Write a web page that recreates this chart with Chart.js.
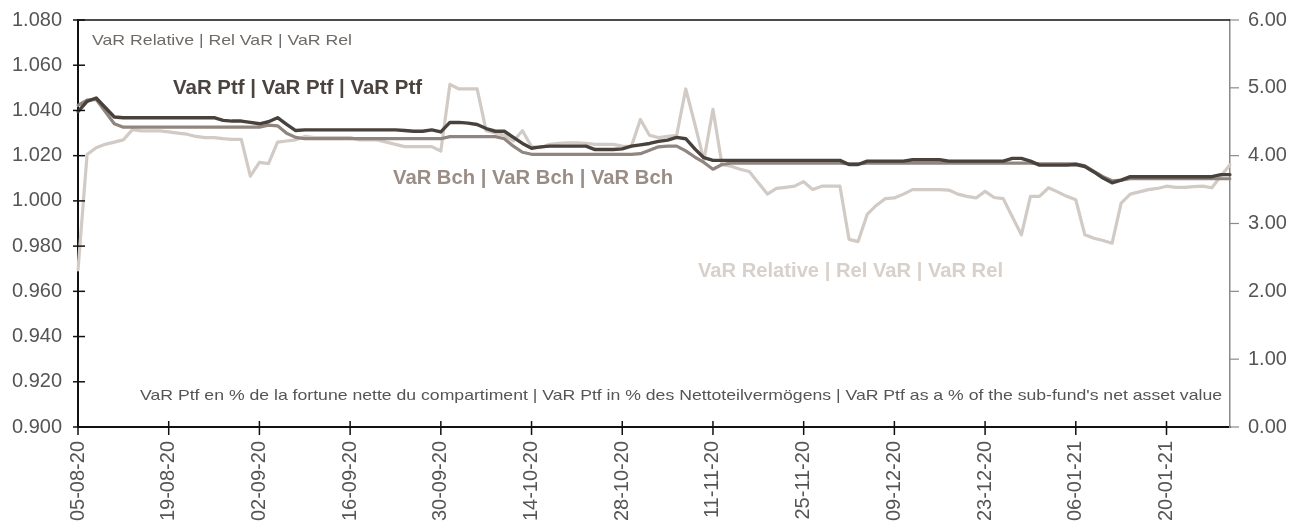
<!DOCTYPE html>
<html><head><meta charset="utf-8">
<script src="https://cdn.jsdelivr.net/npm/chart.js@4.4.1/dist/chart.umd.min.js"></script>
<style>html,body{margin:0;padding:0;background:#fff;overflow:hidden}#wrap{width:1306px;height:521px;position:relative}</style>
</head><body><div id="wrap"><canvas id="c" width="1306" height="521"></canvas></div>
<script>
const dates = [
'05-08-20','06-08-20','07-08-20','10-08-20','11-08-20','12-08-20','13-08-20','14-08-20','17-08-20','18-08-20',
'19-08-20','20-08-20','21-08-20','24-08-20','25-08-20','26-08-20','27-08-20','28-08-20','31-08-20','01-09-20',
'02-09-20','03-09-20','04-09-20','07-09-20','08-09-20','09-09-20','10-09-20','11-09-20','14-09-20','15-09-20',
'16-09-20','17-09-20','18-09-20','21-09-20','22-09-20','23-09-20','24-09-20','25-09-20','28-09-20','29-09-20',
'30-09-20','01-10-20','02-10-20','05-10-20','06-10-20','07-10-20','08-10-20','09-10-20','12-10-20','13-10-20',
'14-10-20','15-10-20','16-10-20','19-10-20','20-10-20','21-10-20','22-10-20','23-10-20','26-10-20','27-10-20',
'28-10-20','29-10-20','30-10-20','02-11-20','03-11-20','04-11-20','05-11-20','06-11-20','09-11-20','10-11-20',
'11-11-20','12-11-20','13-11-20','16-11-20','17-11-20','18-11-20','19-11-20','20-11-20','23-11-20','24-11-20',
'25-11-20','26-11-20','27-11-20','30-11-20','01-12-20','02-12-20','03-12-20','04-12-20','07-12-20','08-12-20',
'09-12-20','10-12-20','11-12-20','14-12-20','15-12-20','16-12-20','17-12-20','18-12-20','21-12-20','22-12-20',
'23-12-20','24-12-20','25-12-20','28-12-20','29-12-20','30-12-20','31-12-20','01-01-21','04-01-21','05-01-21',
'06-01-21','07-01-21','08-01-21','11-01-21','12-01-21','13-01-21','14-01-21','15-01-21','18-01-21','19-01-21',
'20-01-21','21-01-21','22-01-21','25-01-21','26-01-21','27-01-21','28-01-21','29-01-21'];

// VaR Relative (left axis)
const varRel = [
0.9695,1.0205,1.0235,1.0250,1.0260,1.0270,1.0315,1.0310,1.0310,1.0310,
1.0305,1.0300,1.0295,1.0285,1.0280,1.0280,1.0275,1.0272,1.0272,1.0110,
1.0170,1.0165,1.0260,1.0265,1.0270,1.0285,1.0280,1.0280,1.0280,1.0280,
1.0280,1.0270,1.0270,1.0270,1.0260,1.0250,1.0240,1.0240,1.0240,1.0240,
1.0220,1.0515,1.0495,1.0495,1.0495,1.0310,1.0300,1.0290,1.0265,1.0310,
1.0240,1.0235,1.0250,1.0255,1.0257,1.0257,1.0255,1.0250,1.0250,1.0250,
1.0242,1.0240,1.0360,1.0290,1.0280,1.0285,1.0290,1.0495,1.0340,1.0180,
1.0405,1.0160,1.0153,1.0140,1.0130,1.0080,1.0030,1.0055,1.0060,1.0065,
1.0085,1.0050,1.0065,1.0065,1.0065,0.9830,0.9820,0.9940,0.9980,1.0010,
1.0013,1.0030,1.0050,1.0050,1.0050,1.0050,1.0048,1.0030,1.0020,1.0013,
1.0042,1.0015,1.0010,0.9930,0.9850,1.0020,1.0020,1.0058,1.0040,1.0020,
1.0005,0.9850,0.9835,0.9825,0.9813,0.9990,1.0030,1.0040,1.0050,1.0055,
1.0065,1.0060,1.0060,1.0063,1.0065,1.0058,1.0110,1.0160];

// VaR Ptf in % (right axis)
const varPtf = [
4.65,4.80,4.85,4.71,4.57,4.56,4.56,4.56,4.56,4.56,
4.56,4.56,4.56,4.56,4.56,4.56,4.52,4.51,4.51,4.49,
4.47,4.50,4.56,4.46,4.37,4.38,4.38,4.38,4.38,4.38,
4.38,4.38,4.38,4.38,4.38,4.38,4.37,4.36,4.36,4.38,
4.35,4.49,4.49,4.48,4.46,4.40,4.36,4.36,4.27,4.18,
4.11,4.13,4.14,4.14,4.14,4.14,4.14,4.09,4.09,4.09,
4.10,4.14,4.16,4.18,4.21,4.23,4.27,4.25,4.10,3.97,
3.93,3.93,3.93,3.93,3.93,3.93,3.93,3.93,3.93,3.93,
3.93,3.93,3.93,3.93,3.93,3.87,3.87,3.92,3.92,3.92,
3.92,3.92,3.94,3.94,3.94,3.94,3.92,3.92,3.92,3.92,
3.92,3.92,3.92,3.96,3.96,3.92,3.86,3.86,3.86,3.86,
3.87,3.84,3.76,3.67,3.60,3.64,3.69,3.69,3.69,3.69,
3.69,3.69,3.69,3.69,3.69,3.69,3.72,3.72];

// VaR Bch in % (right axis)
const varBch = [
4.74,4.82,4.83,4.65,4.47,4.42,4.42,4.42,4.42,4.42,
4.42,4.42,4.42,4.42,4.42,4.42,4.42,4.42,4.42,4.42,
4.42,4.45,4.44,4.33,4.27,4.25,4.25,4.25,4.25,4.25,
4.25,4.25,4.25,4.25,4.25,4.25,4.25,4.25,4.25,4.25,
4.25,4.28,4.28,4.28,4.28,4.28,4.28,4.25,4.14,4.05,
4.02,4.02,4.02,4.02,4.02,4.02,4.02,4.02,4.02,4.02,
4.02,4.02,4.03,4.08,4.13,4.14,4.14,4.07,3.98,3.90,
3.80,3.87,3.89,3.89,3.89,3.89,3.89,3.89,3.89,3.89,
3.89,3.89,3.89,3.89,3.89,3.88,3.88,3.89,3.89,3.89,
3.89,3.89,3.89,3.89,3.89,3.89,3.89,3.89,3.89,3.89,
3.89,3.89,3.89,3.89,3.89,3.89,3.88,3.88,3.88,3.88,
3.88,3.85,3.77,3.69,3.63,3.64,3.66,3.66,3.66,3.66,
3.66,3.66,3.66,3.66,3.66,3.66,3.66,3.66];

const leftTicks = [0.900,0.920,0.940,0.960,0.980,1.000,1.020,1.040,1.060,1.080];
const rightTicks = [0,1,2,3,4,5,6];
const labelEvery = 10;

const notes = [
 {text:'VaR Relative | Rel VaR | VaR Rel', font:'15px "Liberation Sans", Arial', color:'#6e6a67', x:92, y:41, w:260},
 {text:'VaR Ptf | VaR Ptf | VaR Ptf', font:'bold 20px "Liberation Sans", Arial', color:'#4a433e', x:173, y:88, w:249},
 {text:'VaR Bch | VaR Bch | VaR Bch', font:'bold 20px "Liberation Sans", Arial', color:'#9a8d85', x:393, y:178, w:280},
 {text:'VaR Relative | Rel VaR | VaR Rel', font:'bold 20px "Liberation Sans", Arial', color:'#d8d0ca', x:698, y:271, w:305},
 {text:"VaR Ptf en % de la fortune nette du compartiment | VaR Ptf in % des Nettoteilvermögens | VaR Ptf as a % of the sub-fund's net asset value", font:'15px "Liberation Sans", Arial', color:'#555555', x:140, y:395.5, w:1082}
];

const decor = {
  id:'decor',
  afterDraw(chart){
    const ctx = chart.ctx, a = chart.chartArea;
    const xs = chart.scales.x, yl = chart.scales.y, yr = chart.scales.y2;
    ctx.save();
    ctx.strokeStyle = '#111'; ctx.lineWidth = 1.5;
    ctx.beginPath(); ctx.moveTo(a.left, a.top); ctx.lineTo(a.right, a.top); ctx.stroke();
    leftTicks.forEach(v=>{ const y = yl.getPixelForValue(v); ctx.beginPath(); ctx.moveTo(a.left-5,y); ctx.lineTo(a.left+7,y); ctx.stroke(); });
    for(let i=0;i<dates.length;i+=labelEvery){ const x = xs.getPixelForValue(i); ctx.beginPath(); ctx.moveTo(x,a.bottom-6); ctx.lineTo(x,a.bottom+8); ctx.stroke(); }
    ctx.strokeStyle = '#8a8a8a'; ctx.lineWidth = 1.2;
    rightTicks.forEach(v=>{ const y = yr.getPixelForValue(v); ctx.beginPath(); ctx.moveTo(a.right,y); ctx.lineTo(a.right+9,y); ctx.stroke(); });
    ctx.textBaseline = 'middle'; ctx.textAlign = 'left';
    notes.forEach(n=>{
      ctx.font = n.font; ctx.fillStyle = n.color;
      const m = ctx.measureText(n.text).width;
      ctx.save(); ctx.translate(n.x, n.y); ctx.scale(n.w/m, 1); ctx.fillText(n.text, 0, 0); ctx.restore();
    });
    ctx.restore();
  }
};

new Chart(document.getElementById('c'), {
  type:'line',
  data:{
    labels: dates,
    datasets:[
      {label:'VaR Ptf', data:varPtf, yAxisID:'y2', borderColor:'#48413c', borderWidth:3.4, order:1},
      {label:'VaR Bch', data:varBch, yAxisID:'y2', borderColor:'#918580', borderWidth:3.2, order:2},
      {label:'VaR Relative', data:varRel, yAxisID:'y', borderColor:'#d2cac4', borderWidth:3.2, order:3}
    ]
  },
  options:{
    responsive:false, animation:false, devicePixelRatio:1,
    layout:{padding:{top:20,left:0,right:0,bottom:0}},
    elements:{point:{radius:0}, line:{tension:0, borderJoinStyle:'round', borderCapStyle:'round'}},
    plugins:{legend:{display:false}, tooltip:{enabled:false}},
    scales:{
      x:{
        type:'category', offset:false,
        grid:{display:false, drawTicks:false},
        border:{display:true, color:'#111', width:2},
        ticks:{autoSkip:false, minRotation:90, maxRotation:90, padding:14, color:'#555',
          font:{family:'"Liberation Sans", Arial', size:20},
          callback:(v,i)=> i%labelEvery===0 ? dates[i] : null},
        afterFit:s=>{s.height = 94; s.paddingLeft = 0; s.paddingRight = 0;}
      },
      y:{
        position:'left', min:0.9, max:1.08,
        afterBuildTicks:s=>{s.ticks = leftTicks.map(v=>({value:v}));},
        grid:{display:false, drawTicks:false},
        border:{display:true, color:'#111', width:2},
        ticks:{padding:16, color:'#555', font:{family:'"Liberation Sans", Arial', size:20},
          callback:v=>Number(v).toFixed(3)},
        afterFit:s=>{s.width = 78; s.paddingTop = 0; s.paddingBottom = 0;}
      },
      y2:{
        position:'right', min:0, max:6,
        afterBuildTicks:s=>{s.ticks = rightTicks.map(v=>({value:v}));},
        grid:{display:false, drawTicks:false},
        border:{display:true, color:'#8a8a8a', width:1.5},
        ticks:{padding:18, color:'#555', font:{family:'"Liberation Sans", Arial', size:20},
          callback:v=>Number(v).toFixed(2)},
        afterFit:s=>{s.width = 76; s.paddingTop = 0; s.paddingBottom = 0;}
      }
    }
  },
  plugins:[decor]
});
</script></body></html>
